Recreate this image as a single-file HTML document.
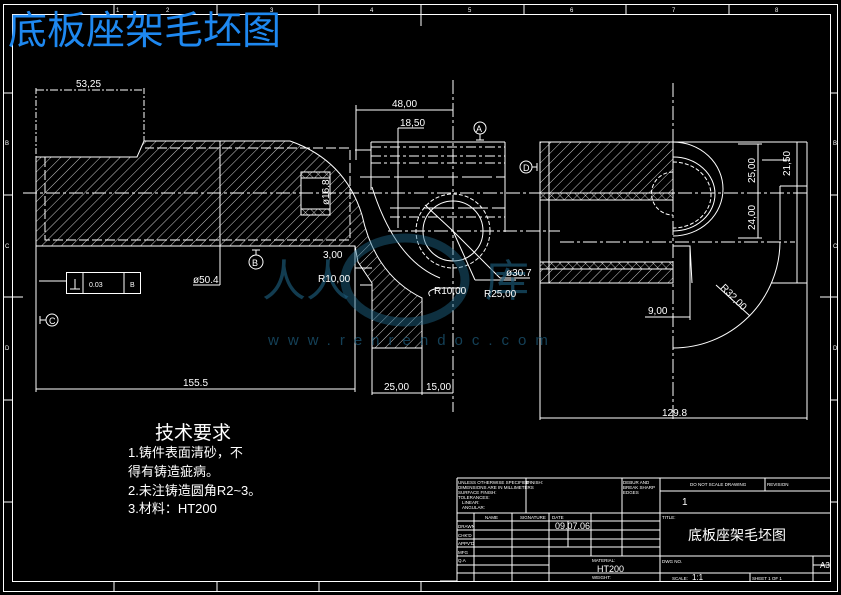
<!DOCTYPE html>
<html><head><meta charset="utf-8"><style>
html,body{margin:0;padding:0;background:#000;}
svg{display:block}
text{font-family:"Liberation Sans","Noto Sans CJK SC",sans-serif;fill:#fff}
</style></head><body>
<svg width="841" height="595" viewBox="0 0 841 595" xmlns="http://www.w3.org/2000/svg">
<defs>
<pattern id="h" width="7" height="7" patternUnits="userSpaceOnUse" patternTransform="rotate(45)">
<line x1="0" y1="0" x2="0" y2="7" stroke="#fff" stroke-width="0.8"/>
</pattern>
<pattern id="x" width="6" height="6" patternUnits="userSpaceOnUse" patternTransform="rotate(45)">
<line x1="0" y1="0" x2="0" y2="6" stroke="#fff" stroke-width="0.7"/>
<line x1="0" y1="0" x2="6" y2="0" stroke="#fff" stroke-width="0.7"/>
</pattern>
</defs>
<rect width="841" height="595" fill="#000"/>
<g stroke="#fff" fill="none" stroke-width="1">
<rect x="3.5" y="4.5" width="834" height="587"/>
<rect x="12.5" y="14.5" width="818" height="567"/>
<g>
<line x1="114" y1="4" x2="114" y2="14"/><line x1="217" y1="4" x2="217" y2="14"/>
<line x1="319" y1="4" x2="319" y2="14"/><line x1="421" y1="4" x2="421" y2="26"/>
<line x1="524" y1="4" x2="524" y2="14"/><line x1="626" y1="4" x2="626" y2="14"/>
<line x1="729" y1="4" x2="729" y2="14"/>
<line x1="114" y1="582" x2="114" y2="591"/><line x1="217" y1="582" x2="217" y2="591"/>
<line x1="319" y1="582" x2="319" y2="591"/><line x1="421" y1="582" x2="421" y2="591"/>
<line x1="3" y1="93" x2="12" y2="93"/><line x1="3" y1="195" x2="12" y2="195"/>
<line x1="3" y1="297" x2="23" y2="297"/><line x1="3" y1="400" x2="12" y2="400"/><line x1="3" y1="502" x2="12" y2="502"/>
<line x1="831" y1="93" x2="838" y2="93"/><line x1="831" y1="195" x2="838" y2="195"/>
<line x1="820" y1="297" x2="838" y2="297"/><line x1="831" y1="400" x2="838" y2="400"/><line x1="831" y1="502" x2="838" y2="502"/>
</g>
<path d="M36,157 L137,157 L144,141 L290,141 Q345,160 362,215 Q375,275 422,298 L422,348 L372,348 L372,283 L358,262 L355,246 L36,246 Z" fill="url(#h)"/>
<rect x="301" y="172" width="29" height="43" fill="#000"/>
<rect x="301" y="172" width="29" height="6" fill="url(#x)"/>
<rect x="301" y="209" width="29" height="6" fill="url(#x)"/>
<path d="M45,157 L45,240 L350,240 L350,148 L145,148" stroke-dasharray="10 3"/>
<line x1="36" y1="246" x2="36" y2="392"/>
<line x1="355" y1="246" x2="355" y2="392"/>
<line x1="36" y1="88" x2="36" y2="157" stroke-dasharray="6 2 2 2"/>
<line x1="144" y1="88" x2="144" y2="141" stroke-dasharray="6 2 2 2"/>
<line x1="36" y1="90" x2="144" y2="90" stroke-dasharray="8 2 2 2"/>
<line x1="36" y1="389" x2="355" y2="389"/>
<line x1="23" y1="193" x2="560" y2="193" stroke-dasharray="14 3 3 3"/>
<line x1="220" y1="141" x2="220" y2="285"/><line x1="193" y1="285" x2="220" y2="285"/>
<rect x="66.5" y="272.5" width="74" height="21"/>
<line x1="83" y1="272" x2="83" y2="293"/><line x1="124" y1="272" x2="124" y2="293"/>
<line x1="39" y1="281" x2="66" y2="281"/>
<line x1="70" y1="289" x2="80" y2="289"/><line x1="75" y1="279" x2="75" y2="289"/>
<circle cx="52" cy="320" r="6"/><line x1="40" y1="320" x2="46" y2="320"/><line x1="40" y1="316" x2="40" y2="324"/>
<circle cx="256" cy="262" r="7"/><line x1="256" y1="250" x2="256" y2="255"/><line x1="252" y1="250" x2="260" y2="250"/>
<line x1="356" y1="110" x2="453" y2="110"/><line x1="356" y1="105" x2="356" y2="160"/>
<line x1="398" y1="128" x2="398" y2="228"/><line x1="398" y1="128" x2="424" y2="128"/>
<line x1="453" y1="80" x2="453" y2="412" stroke-dasharray="14 3 3 3"/>
<line x1="371" y1="142" x2="505" y2="142"/><line x1="505" y1="142" x2="505" y2="232"/>
<line x1="355" y1="150" x2="371" y2="150"/><line x1="371" y1="142" x2="371" y2="190"/>
<line x1="371" y1="147" x2="505" y2="147" stroke-dasharray="10 3 3 3"/>
<line x1="371" y1="156" x2="505" y2="156" stroke-dasharray="10 3 3 3"/>
<line x1="371" y1="163" x2="505" y2="163" stroke-dasharray="10 3 3 3"/>
<line x1="360" y1="177" x2="505" y2="177" stroke-dasharray="30 4"/>
<line x1="390" y1="208" x2="505" y2="208" stroke-dasharray="30 4"/>
<line x1="390" y1="217" x2="505" y2="217" stroke-dasharray="10 3 3 3"/>
<line x1="388" y1="231" x2="560" y2="231" stroke-dasharray="14 3 3 3"/>
<circle cx="453" cy="231" r="30"/>
<circle cx="453" cy="231" r="37" stroke-dasharray="4 2"/>
<path d="M372,187 Q395,260 440,278" />
<line x1="453" y1="231" x2="425" y2="205"/><line x1="453" y1="231" x2="475" y2="280"/><line x1="475" y1="280" x2="516" y2="280"/>
<line x1="453" y1="231" x2="500" y2="278" /><line x1="500" y1="278" x2="530" y2="278"/>
<path d="M430,296 Q425,290 440,288 L462,288"/>
<line x1="372" y1="348" x2="372" y2="395"/><line x1="422" y1="348" x2="422" y2="395"/>
<line x1="372" y1="393" x2="453" y2="393"/>
<line x1="355" y1="268" x2="372" y2="268"/><line x1="360" y1="285" x2="372" y2="285"/>
<rect x="540" y="142" width="133" height="51" fill="url(#h)"/>
<rect x="540" y="193" width="133" height="7" fill="url(#x)"/>
<rect x="540" y="262" width="133" height="7" fill="url(#x)"/>
<rect x="540" y="269" width="133" height="14" fill="url(#h)"/>
<line x1="540" y1="142" x2="540" y2="420"/>
<line x1="549" y1="142" x2="549" y2="283"/>
<line x1="540" y1="142" x2="807" y2="142"/>
<line x1="673" y1="83" x2="673" y2="422" stroke-dasharray="14 3 3 3"/>
<path d="M673,142 A50,47 0 0 1 673,236"/>
<path d="M673,157 A42,37 0 0 1 673,231"/>
<path d="M673,162 A38,33 0 0 1 673,228" stroke-dasharray="4 2"/>
<path d="M673,172 A15,15 0 0 0 673,215" stroke-dasharray="4 2"/>
<line x1="540" y1="283" x2="673" y2="283"/>
<path d="M673,246 L690,246 L692,283"/>
<line x1="690" y1="246" x2="690" y2="320"/>
<line x1="807" y1="142" x2="807" y2="283"/><line x1="797" y1="142" x2="797" y2="283"/>
<line x1="780" y1="186" x2="807" y2="186"/><line x1="780" y1="186" x2="780" y2="240"/>
<line x1="771" y1="283" x2="807" y2="283"/>
<line x1="560" y1="242" x2="795" y2="242" stroke-dasharray="14 3 3 3"/>
<line x1="540" y1="193" x2="810" y2="193" stroke-dasharray="14 3 3 3"/>
<path d="M780,242 A107,107 0 0 1 673,348"/>
<line x1="716" y1="285" x2="750" y2="316"/>
<line x1="758" y1="144" x2="758" y2="238"/><line x1="738" y1="144" x2="762" y2="144"/><line x1="738" y1="238" x2="762" y2="238"/>
<line x1="762" y1="160" x2="790" y2="160"/>
<line x1="645" y1="317" x2="690" y2="317"/>
<line x1="540" y1="418" x2="807" y2="418"/><line x1="807" y1="283" x2="807" y2="420"/>
<circle cx="526" cy="167" r="6"/><line x1="532" y1="167" x2="537" y2="167"/><line x1="537" y1="163" x2="537" y2="171"/>
<circle cx="480" cy="128" r="6"/><line x1="480" y1="134" x2="480" y2="140"/><line x1="476" y1="140" x2="484" y2="140"/>
<line x1="457" y1="478" x2="831" y2="478"/>
<line x1="457" y1="478" x2="457" y2="582"/>
<line x1="440" y1="581" x2="457" y2="581"/>
<line x1="526" y1="478" x2="526" y2="513"/>
<line x1="622" y1="478" x2="622" y2="556"/>
<line x1="660" y1="478" x2="660" y2="582"/>
<line x1="765" y1="478" x2="765" y2="491"/>
<line x1="660" y1="491" x2="831" y2="491"/>
<line x1="457" y1="513" x2="831" y2="513"/>
<line x1="474" y1="513" x2="474" y2="582"/>
<line x1="512" y1="513" x2="512" y2="582"/>
<line x1="549" y1="513" x2="549" y2="582"/>
<line x1="591" y1="513" x2="591" y2="556"/>
<line x1="568" y1="521" x2="568" y2="547"/>
<line x1="457" y1="521" x2="660" y2="521"/>
<line x1="457" y1="530" x2="660" y2="530"/>
<line x1="457" y1="539" x2="660" y2="539"/>
<line x1="457" y1="547" x2="660" y2="547"/>
<line x1="457" y1="556" x2="831" y2="556"/>
<line x1="457" y1="565" x2="549" y2="565"/>
<line x1="457" y1="573" x2="831" y2="573"/>
<line x1="813" y1="556" x2="813" y2="582"/>
<line x1="813" y1="565" x2="831" y2="565"/>
<line x1="750" y1="573" x2="750" y2="582"/>
</g>
<g opacity="0.45" fill="none" stroke="#1e6a8e" stroke-width="9">
<ellipse cx="405" cy="280" rx="60" ry="42"/>
</g>
<text x="262" y="296" font-size="44" style="fill:#1d5c7c" opacity="0.65">人人</text>
<text x="485" y="296" font-size="44" style="fill:#1d5c7c" opacity="0.65">库</text>
<text x="268" y="345" font-size="15" style="fill:#1d5c7c" opacity="0.7" letter-spacing="9" font-family="Liberation Serif,serif">www.renrendoc.com</text>
<text x="8" y="44" font-size="39" style="fill:#1e88f0">底板座架毛坯图</text>
<g font-size="10">
<text x="76" y="87">53,25</text>
<text x="392" y="107">48,00</text>
<text x="400" y="126">18,50</text>
<text x="193" y="283">ø50.4</text>
<text x="183" y="386">155.5</text>
<text x="323" y="258">3,00</text>
<text x="318" y="282">R10,00</text>
<text x="434" y="294">R10,00</text>
<text x="484" y="297">R25,00</text>
<text x="506" y="276">ø30.7</text>
<text x="384" y="390">25,00</text>
<text x="426" y="390">15,00</text>
<text x="648" y="314">9,00</text>
<text x="662" y="416">129.8</text>
<text x="89" y="287" font-size="7">0.03</text>
<text x="130" y="287" font-size="7">B</text>
<text x="476" y="132" font-size="9">A</text>
<text x="252" y="266" font-size="9">B</text>
<text x="49" y="324" font-size="9">C</text>
<text x="523" y="171" font-size="9">D</text>
<text transform="translate(329,205) rotate(-90)">ø16,8</text>
<text transform="translate(755,183) rotate(-90)">25,00</text>
<text transform="translate(755,230) rotate(-90)">24,00</text>
<text transform="translate(790,176) rotate(-90)">21,50</text>
<text transform="translate(720,288) rotate(45)">R32,00</text>
</g>
<text x="155" y="439" font-size="19">技术要求</text>
<g font-size="13">
<text x="128" y="457">1.铸件表面清砂，不</text>
<text x="128" y="476">得有铸造疵病。</text>
<text x="128" y="495">2.未注铸造圆角R2~3。</text>
<text x="128" y="513">3.材料：HT200</text>
</g>
<g font-size="4.5">
<text x="458" y="484">UNLESS OTHERWISE SPECIFIED</text>
<text x="458" y="489">DIMENSIONS ARE IN MILLIMETERS</text>
<text x="458" y="494">SURFACE FINISH:</text>
<text x="458" y="499">TOLERANCES:</text>
<text x="462" y="504">LINEAR:</text>
<text x="462" y="509">ANGULAR:</text>
<text x="527" y="484">FINISH:</text>
<text x="623" y="484">DEBUR AND</text>
<text x="623" y="489">BREAK SHARP</text>
<text x="623" y="494">EDGES</text>
<text x="690" y="486">DO NOT SCALE DRAWING</text>
<text x="767" y="486">REVISION</text>
<text x="485" y="519">NAME</text><text x="520" y="519">SIGNATURE</text><text x="552" y="519">DATE</text>
<text x="458" y="528">DRAWN</text><text x="458" y="537">CHK'D</text><text x="458" y="545">APPV'D</text>
<text x="458" y="554">MFG</text><text x="458" y="562">Q.A</text>
<text x="662" y="519">TITLE:</text>
<text x="592" y="562">MATERIAL:</text>
<text x="662" y="563">DWG NO.</text>
<text x="592" y="579">WEIGHT:</text>
<text x="672" y="580">SCALE:</text>
<text x="752" y="580">SHEET 1 OF 1</text>
</g>
<text x="682" y="505" font-size="10">1</text>
<text x="555" y="529" font-size="9">09.07.06</text>
<text x="597" y="572" font-size="9">HT200</text>
<text x="820" y="568" font-size="8">A3</text>
<text x="692" y="580" font-size="8">1:1</text>
<text x="688" y="540" font-size="14">底板座架毛坯图</text>
<g font-size="6">
<text x="116" y="12">1</text><text x="166" y="12">2</text><text x="270" y="12">3</text><text x="370" y="12">4</text>
<text x="468" y="12">5</text><text x="570" y="12">6</text><text x="672" y="12">7</text><text x="775" y="12">8</text>
<text x="5" y="145">B</text><text x="5" y="248">C</text><text x="5" y="350">D</text>
<text x="833" y="145">B</text><text x="833" y="248">C</text><text x="833" y="350">D</text>
</g>
</svg>
</body></html>
